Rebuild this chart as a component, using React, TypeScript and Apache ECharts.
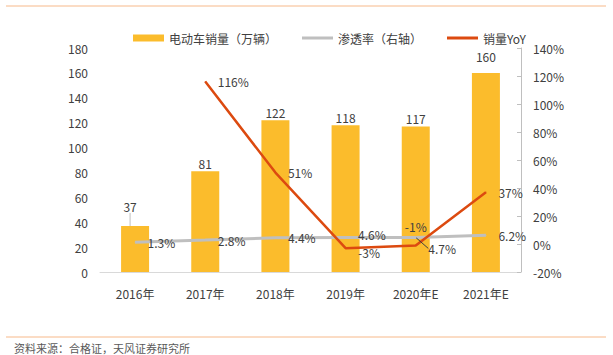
import React, { useEffect, useRef } from "react";
import * as echarts from "echarts";

const categories = ["2016年", "2017年", "2018年", "2019年", "2020年E", "2021年E"];
const salesValues = [37, 81, 122, 118, 117, 160];
const penetrationValues = [1.3, 2.8, 4.4, 4.6, 4.7, 6.2];
const yoyValues: (number | null)[] = [null, 116, 51, -3, -1, 37];
const seriesNames = ["电动车销量（万辆）", "渗透率（右轴）", "销量YoY"];
const sourceText = "资料来源：合格证，天风证券研究所";

const FONT = "'Noto Sans CJK SC', 'Noto Sans', sans-serif";
const TXT = "#404040";
const LINE_ICON = "path://M0,0 L31,0 L31,3 L0,3 Z";

export default function App() {
  const ref = useRef<HTMLDivElement>(null);
  useEffect(() => {
    if (!ref.current) return;
    const chart = echarts.init(ref.current, null, { renderer: "svg" });
    chart.setOption({
      animation: false,
      textStyle: { fontFamily: FONT, color: TXT },
      grid: { left: 100, right: 92, top: 48, bottom: 83 },
      legend: {
        left: 128,
        top: 27,
        itemWidth: 31,
        itemHeight: 7,
        itemGap: 25,
        textStyle: { fontSize: 12, color: TXT, fontFamily: FONT },
        data: [
          { name: seriesNames[0], icon: "rect" },
          { name: seriesNames[1], icon: LINE_ICON },
          { name: seriesNames[2], icon: LINE_ICON },
        ],
      },
      xAxis: {
        type: "category",
        data: categories,
        axisLine: { lineStyle: { color: "#D9D9D9", width: 1 } },
        axisTick: { show: false },
        axisLabel: { color: TXT, fontSize: 12, margin: 15, fontFamily: FONT },
      },
      yAxis: [
        {
          type: "value",
          min: 0,
          max: 180,
          interval: 20,
          axisLine: { show: false },
          axisTick: { show: false },
          splitLine: { show: false },
          axisLabel: { color: TXT, fontSize: 12, margin: 12, fontFamily: FONT },
        },
        {
          type: "value",
          min: -20,
          max: 140,
          interval: 20,
          position: "right",
          axisLine: { show: true, lineStyle: { color: "#BFBFBF", width: 1 } },
          axisTick: { show: true, inside: true, length: 4, lineStyle: { color: "#BFBFBF" } },
          splitLine: { show: false },
          axisLabel: { color: TXT, fontSize: 12, margin: 12, formatter: "{value}%", fontFamily: FONT },
        },
      ],
      series: [
        {
          name: seriesNames[0],
          type: "bar",
          yAxisIndex: 0,
          barWidth: 28,
          data: salesValues.map((v, i) =>
            i === 0 ? { value: v, labelLine: { show: true } } : v
          ),
          itemStyle: { color: "#FBBC2C" },
          label: { show: true, position: "top", distance: 2, color: TXT, fontSize: 12, fontFamily: FONT },
          labelLayout: (p: any) => {
            if (p.dataIndex === 0) return { dx: -5, dy: -11 };
            if (p.dataIndex === 5) return { dy: -8 };
            return {};
          },
          labelLine: { show: false, lineStyle: { color: "#BFBFBF", width: 1 } },
        },
        {
          name: seriesNames[1],
          type: "line",
          yAxisIndex: 1,
          data: penetrationValues.map((v, i) =>
            i === 4 ? { value: v, labelLine: { show: true } } : v
          ),
          symbol: "circle",
          symbolSize: 1,
          lineStyle: { color: "#BFBFBF", width: 3 },
          itemStyle: { color: "#BFBFBF" },
          label: {
            show: true,
            position: "right",
            distance: 12,
            color: TXT,
            fontSize: 12,
            fontFamily: FONT,
            formatter: (p: any) => p.value + "%",
          },
          labelLayout: (p: any) => {
            if (p.dataIndex === 4) return { dy: 11 };
            if (p.dataIndex === 3) return { dy: -3 };
            return {};
          },
          labelLine: { show: false, lineStyle: { color: "#404040", width: 1 } },
        },
        {
          name: seriesNames[2],
          type: "line",
          yAxisIndex: 1,
          data: yoyValues.map((v, i) =>
            i === 4
              ? { value: v, label: { position: "top", offset: [11, 0] } }
              : v
          ),
          symbol: "circle",
          symbolSize: 1,
          lineStyle: { color: "#DC4A10", width: 2.5 },
          itemStyle: { color: "#DC4A10" },
          label: {
            show: true,
            position: "right",
            distance: 12,
            color: TXT,
            fontSize: 12,
            fontFamily: FONT,
            formatter: (p: any) => (p.value == null ? "" : p.value + "%"),
          },
          labelLayout: (p: any) => (p.dataIndex === 3 ? { dy: 4 } : {}),
        },
      ],
      graphic: [
        { type: "line", shape: { x1: 6, y1: 6, x2: 606, y2: 6 }, style: { stroke: "#F7B98A", lineWidth: 1 } },
        { type: "line", shape: { x1: 6, y1: 337, x2: 606, y2: 337 }, style: { stroke: "#F7B98A", lineWidth: 1 } },
        {
          type: "text",
          left: 14,
          top: 342,
          style: { text: sourceText, fill: "#595959", fontSize: 11, fontFamily: FONT },
        },
      ],
    });
    return () => chart.dispose();
  }, []);
  return <div ref={ref} style={{ width: 613, height: 355, position: "absolute", left: 0, top: 0 }} />;
}
